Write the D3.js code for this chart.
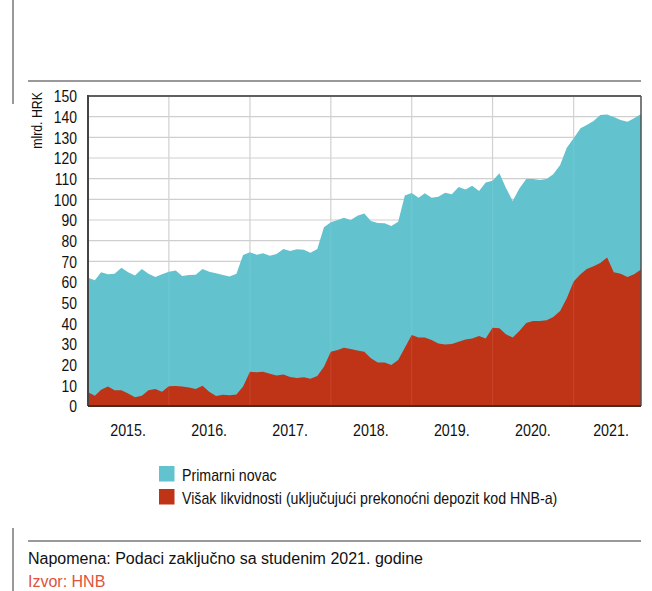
<!DOCTYPE html>
<html>
<head>
<meta charset="utf-8">
<script src="https://cdn.jsdelivr.net/npm/d3@7/dist/d3.min.js"></script>
<style>
  html, body { margin: 0; padding: 0; background: #fff; }
  svg { display: block; }
  text { font-family: "Liberation Sans", Arial, sans-serif; }
</style>
</head>
<body>
<script>
// ---- Data (mlrd. HRK), monthly Jan 2015 .. Nov 2021 ----
const startMonth = "2015-01";
const endMonth = "2021-11";
const primarniNovac = [
  62.1, 60.8, 64.7, 63.7, 64.0, 66.9, 64.7, 63.1, 66.3, 64.0, 62.4, 63.7,
  65.0, 65.6, 62.9, 63.4, 63.5, 66.3, 65.0, 64.2, 63.4, 62.7, 64.0, 73.1,
  74.4, 73.2, 73.9, 72.7, 73.5, 76.0, 75.0, 75.8, 75.6, 74.2, 76.0, 86.5,
  88.9, 90.0, 91.1, 90.0, 92.1, 93.2, 89.5, 88.5, 88.4, 87.1, 89.2, 101.8,
  103.1, 100.8, 102.9, 100.8, 101.3, 103.2, 102.4, 106.0, 104.8, 106.6, 104.0, 108.2,
  109.0, 112.6, 105.6, 99.2, 105.3, 109.8, 109.8, 109.4, 109.8, 112.1, 116.6, 125.0,
  129.5, 134.4, 136.0, 137.9, 140.8, 141.0, 139.8, 138.4, 137.6, 139.2, 141.3
];
const visakLikvidnosti = [
  6.6, 5.0, 7.9, 9.4, 7.6, 7.6, 6.0, 4.2, 5.0, 7.6, 8.2, 6.9,
  9.5, 9.7, 9.4, 8.9, 8.2, 9.8, 6.9, 4.8, 5.5, 5.2, 5.6, 9.4,
  16.6, 16.3, 16.6, 15.6, 14.8, 15.2, 14.0, 13.5, 13.9, 13.2, 14.5, 19.0,
  26.3, 27.1, 28.2, 27.6, 26.9, 26.3, 23.1, 21.1, 21.0, 19.8, 22.3, 28.2,
  34.4, 33.1, 33.2, 31.9, 30.3, 29.8, 30.0, 31.1, 32.2, 32.7, 33.9, 32.7,
  37.9, 37.6, 34.7, 33.1, 36.3, 40.2, 41.1, 41.1, 41.5, 43.1, 46.0, 52.1,
  60.2, 63.7, 66.3, 67.6, 69.2, 71.8, 64.7, 64.0, 62.4, 63.7, 66.1
];
const yTicks = [0, 10, 20, 30, 40, 50, 60, 70, 80, 90, 100, 110, 120, 130, 140, 150];
const yearLabels = ["2015.", "2016.", "2017.", "2018.", "2019.", "2020.", "2021."];
const seriesNames = ["Primarni novac", "Višak likvidnosti (uključujući prekonoćni depozit kod HNB-a)"];
const yAxisTitle = "mlrd. HRK";
const noteText = "Napomena: Podaci zaključno sa studenim 2021. godine";
const sourceText = "Izvor: HNB";

const colors = { blue: "#62c3cf", red: "#bf3317" };

// ---- Layout ----
const W = 652, H = 591;
const plot = { left: 88, right: 641, top: 96, bottom: 406 };

// condensed look: squeeze regular glyphs horizontally
function narrow(sel, f = 0.82) {
  sel.each(function () {
    const len = this.getComputedTextLength();
    d3.select(this).attr("textLength", len * f).attr("lengthAdjust", "spacingAndGlyphs");
  });
}

const parseMonth = d3.timeParse("%Y-%m");
const dates = d3.timeMonth.range(parseMonth(startMonth), d3.timeMonth.offset(parseMonth(endMonth), 1));
const rows = dates.map((d, i) => ({ date: d, total: primarniNovac[i], excess: visakLikvidnosti[i] }));

const svg = d3.select("body").append("svg").attr("width", W).attr("height", H);

const x = d3.scaleTime().domain([dates[0], dates[dates.length - 1]]).range([plot.left, plot.right]);
const y = d3.scaleLinear().domain([0, 150]).range([plot.bottom, plot.top]);

// frame lines
svg.append("line").attr("x1", 13).attr("x2", 13).attr("y1", 0).attr("y2", 104)
  .attr("stroke", "#777").attr("stroke-width", 1.5);
svg.append("line").attr("x1", 13).attr("x2", 13).attr("y1", 528).attr("y2", H)
  .attr("stroke", "#777").attr("stroke-width", 1.5);
svg.append("line").attr("x1", 28).attr("x2", 641).attr("y1", 81).attr("y2", 81)
  .attr("stroke", "#777").attr("stroke-width", 1.5);
svg.append("line").attr("x1", 28).attr("x2", 641).attr("y1", 541).attr("y2", 541)
  .attr("stroke", "#777").attr("stroke-width", 1.5);

// grid
const grid = svg.append("g");
grid.selectAll("line.h").data(yTicks.filter(t => t > 0 && t < 150)).join("line")
  .attr("x1", plot.left).attr("x2", plot.right)
  .attr("y1", d => y(d)).attr("y2", d => y(d))
  .attr("stroke", "#cfcfcf").attr("stroke-width", 1.2);
const yearStarts = yearLabels.map(l => new Date(+l.slice(0, 4), 0, 1));
grid.selectAll("line.v").data(yearStarts.slice(1)).join("line")
  .attr("x1", d => x(d)).attr("x2", d => x(d))
  .attr("y1", plot.top).attr("y2", plot.bottom)
  .attr("stroke", "#cfcfcf").attr("stroke-width", 1.2);

// areas
const areaTotal = d3.area().x(d => x(d.date)).y0(y(0)).y1(d => y(d.total));
const areaExcess = d3.area().x(d => x(d.date)).y0(y(0)).y1(d => y(d.excess));
svg.append("path").datum(rows).attr("d", areaTotal).attr("fill", colors.blue);
svg.append("path").datum(rows).attr("d", areaExcess).attr("fill", colors.red);

// faint year lines through areas
svg.append("g").selectAll("line").data(yearStarts.slice(1)).join("line")
  .attr("x1", d => x(d)).attr("x2", d => x(d))
  .attr("y1", plot.top).attr("y2", plot.bottom)
  .attr("stroke", "#ffffff").attr("stroke-opacity", 0.08).attr("stroke-width", 1.2);

// plot border
svg.append("line").attr("x1", plot.left).attr("x2", plot.right).attr("y1", plot.top).attr("y2", plot.top)
  .attr("stroke", "#606060").attr("stroke-width", 2);
svg.append("line").attr("x1", plot.right).attr("x2", plot.right).attr("y1", plot.top).attr("y2", plot.bottom)
  .attr("stroke", "#505050").attr("stroke-width", 1.5);
svg.append("line").attr("x1", plot.left).attr("x2", plot.left).attr("y1", plot.top - 1).attr("y2", plot.bottom)
  .attr("stroke", "#444").attr("stroke-width", 2);
svg.append("line").attr("x1", plot.left).attr("x2", plot.right).attr("y1", plot.bottom).attr("y2", plot.bottom)
  .attr("stroke", "#4a2a22").attr("stroke-width", 2);

// y axis labels
const yAxis = d3.axisLeft(y).tickValues(yTicks).tickSize(0).tickPadding(0).tickFormat(d3.format("d"));
const gy = svg.append("g").attr("transform", `translate(77,0)`).call(yAxis);
gy.attr("font-family", null).attr("font-size", null);
gy.select(".domain").remove();
gy.selectAll("text").attr("font-size", 16).attr("fill", "#111").attr("dy", "0.36em")
  .call(narrow, 0.87);

// y axis title
svg.append("text")
  .attr("transform", "translate(42,92) rotate(-90)")
  .attr("text-anchor", "end").attr("font-size", 14.5).attr("fill", "#111")
  .text(yAxisTitle).call(narrow, 0.85);

// x year labels
svg.append("g").selectAll("text").data(yearLabels).join("text")
  .attr("x", l => Math.min(x(new Date(+l.slice(0, 4), 6, 1)), plot.right - 30))
  .attr("y", 436)
  .attr("text-anchor", "middle").attr("font-size", 17).attr("fill", "#111")
  .text(l => l).call(narrow, 0.84);

// legend
const legend = svg.append("g");
const legendItems = [
  { name: seriesNames[0], color: colors.blue, y: 466 },
  { name: seriesNames[1], color: colors.red, y: 489 }
];
legend.selectAll("rect").data(legendItems).join("rect")
  .attr("x", 159).attr("y", d => d.y).attr("width", 15.5).attr("height", 15.5)
  .attr("fill", d => d.color);
legend.selectAll("text").data(legendItems).join("text")
  .attr("x", 182).attr("y", d => d.y + 14.5)
  .attr("font-size", 17).attr("fill", "#111")
  .text(d => d.name).call(narrow, 0.835);

// footnotes
svg.append("text").attr("x", 28).attr("y", 564)
  .attr("font-size", 16).attr("fill", "#111")
  .text(noteText);
svg.append("text").attr("x", 28).attr("y", 587)
  .attr("font-size", 16).attr("fill", "#e0523e")
  .text(sourceText);
</script>
</body>
</html>
